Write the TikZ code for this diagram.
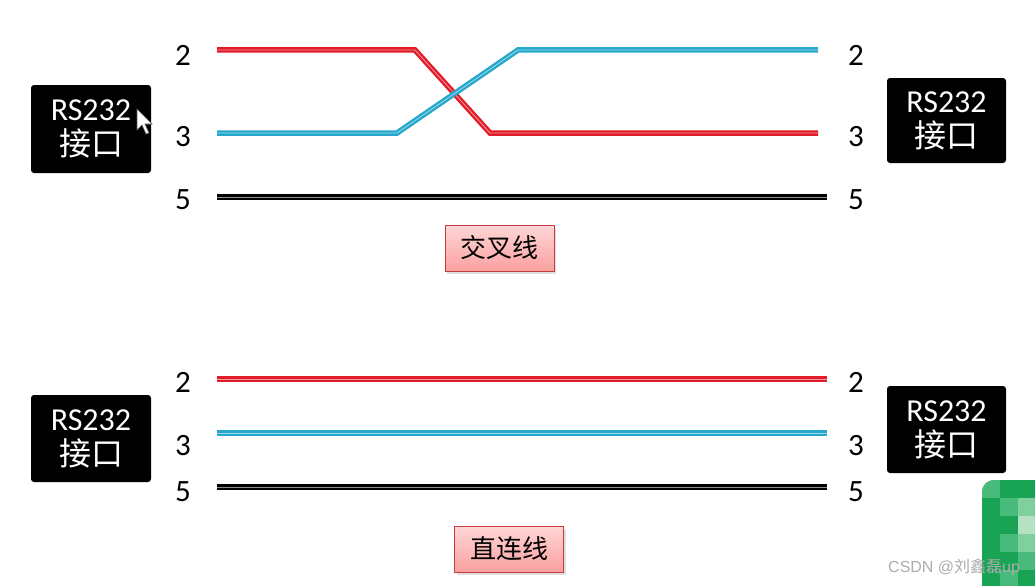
\documentclass[tikz,border=0pt]{standalone}
\usepackage{fontspec}
\setmainfont{Carlito}
\newfontfamily\cjk{Noto Sans CJK SC}
\newfontfamily\wmfont{Liberation Sans}
\usetikzlibrary{shadows}
\definecolor{wred}{RGB}{226,28,40}
\definecolor{wblue}{RGB}{38,168,204}
\definecolor{tagtop}{RGB}{255,214,214}
\definecolor{tagbot}{RGB}{250,160,160}
\definecolor{tagedge}{RGB}{196,60,60}
\definecolor{gA}{RGB}{24,164,84}
\definecolor{gB}{RGB}{72,186,122}
\definecolor{gC}{RGB}{128,208,158}
\definecolor{gD}{RGB}{182,226,196}
\begin{document}
\begin{tikzpicture}[x=1pt,y=-1pt,
  port/.style={fill=black, rounded corners=3pt, minimum width=120pt, minimum height=88pt,
    text=white, align=center, inner sep=0pt, font=\fontsize{32}{35}\selectfont},
  num/.style={inner sep=0pt, font=\fontsize{31}{31}\selectfont},
  tag/.style={draw=tagedge, line width=0.8pt, top color=tagtop, bottom color=tagbot,
    minimum width=109pt, minimum height=46pt, inner sep=0pt,
    font=\cjk\fontsize{26}{26}\selectfont,
    drop shadow={shadow xshift=2pt, shadow yshift=-3pt, opacity=0.25}},
  wshadow/.style={line width=3pt, black, opacity=0.10, shift={(0,3.8)}},
  wbody/.style={line width=5.5pt, #1},
  whl/.style={line width=0.8pt, white, opacity=0.55, shift={(0,1.3)}},
  wm/.style={text=gray!65, font=\wmfont\fontsize{16}{16}\selectfont, inner sep=0pt}
]
\useasboundingbox (0,0) rectangle (1035,586);

% ---------------- top: crossover ----------------
\node[port] (pl1) at (91,129) {RS232\\{\cjk 接口}};
\node[port, minimum width=119pt, minimum height=85pt] (pr1) at (946.5,120.5) {RS232\\{\cjk 接口}};

\node[num] (l2a) at (183,55) {2};
\node[num] (l3a) at (183,137) {3};
\node[num] (l5a) at (183,200) {5};
\node[num] (r2a) at (856,55) {2};
\node[num] (r3a) at (856,137) {3};
\node[num] (r5a) at (856,200) {5};

\coordinate (ra0) at (217,50);
\coordinate (ra1) at (415,50);
\coordinate (ra2) at (490,133);
\coordinate (ra3) at (818,133);
\coordinate (ba0) at (217,133);
\coordinate (ba1) at (397,133);
\coordinate (ba2) at (518,50);
\coordinate (ba3) at (818,50);
\coordinate (ka0) at (217,197);
\coordinate (ka1) at (827,197);

\draw[wshadow] (ra0) -- (ra1) -- (ra2) -- (ra3);
\draw[wshadow] (ba0) -- (ba1) -- (ba2) -- (ba3);
\draw[wshadow] (ka0) -- (ka1);
\draw[wbody=wred] (ra0) -- (ra1) -- (ra2) -- (ra3);
\draw[whl] (ra0) -- (ra1) -- (ra2) -- (ra3);
\draw[wbody=wblue] (ba0) -- (ba1) -- (ba2) -- (ba3);
\draw[whl] (ba0) -- (ba1) -- (ba2) -- (ba3);
\draw[wbody=black] (ka0) -- (ka1);
\draw[whl] (ka0) -- (ka1);

\node[tag] (t1) at (499.5,248) {交叉线};

% cursor
\draw[fill=white, draw=gray!70!black, line width=0.7pt]
  (137,109) -- (137,130) -- (142,125) -- (146,134) -- (149,133) -- (145,124) -- (152,124) -- cycle;

% ---------------- bottom: straight ----------------
\node[port, minimum height=87pt] (pl2) at (91,438.5) {RS232\\{\cjk 接口}};
\node[port, minimum width=119pt, minimum height=87pt] (pr2) at (946.5,429.5) {RS232\\{\cjk 接口}};

\node[num] (l2b) at (183,382) {2};
\node[num] (l3b) at (183,446) {3};
\node[num] (l5b) at (183,492) {5};
\node[num] (r2b) at (856,382) {2};
\node[num] (r3b) at (856,446) {3};
\node[num] (r5b) at (856,492) {5};

\coordinate (rb0) at (217,379);
\coordinate (rb1) at (827,379);
\coordinate (bb0) at (217,433);
\coordinate (bb1) at (827,433);
\coordinate (kb0) at (217,487);
\coordinate (kb1) at (827,487);

\draw[wshadow] (rb0) -- (rb1);
\draw[wshadow] (bb0) -- (bb1);
\draw[wshadow] (kb0) -- (kb1);
\draw[wbody=wred] (rb0) -- (rb1);
\draw[whl] (rb0) -- (rb1);
\draw[wbody=wblue] (bb0) -- (bb1);
\draw[whl] (bb0) -- (bb1);
\draw[wbody=black] (kb0) -- (kb1);
\draw[whl] (kb0) -- (kb1);

\node[tag] (t2) at (509,549) {直连线};

% ---------------- green block + watermark ----------------
\begin{scope}
  \clip[rounded corners=12pt] (982,480) rectangle (1050,600);
  \fill[gA] (982,480) rectangle (1035,586);
  \fill[gB] (1000,498) rectangle (1018,516);
  \fill[gC] (1018,498) rectangle (1035,516);
  \fill[gD] (1018,516) rectangle (1035,534);
  \fill[gB] (982,480) rectangle (1000,498);
  \fill[gC] (1018,534) rectangle (1035,552);
  \fill[gB] (1000,534) rectangle (1018,552);
  \fill[gB] (1018,552) rectangle (1035,570);
  \fill[gB] (1000,570) rectangle (1018,586);
\end{scope}
\node[wm, anchor=west] (wmk) at (888,567) {CSDN @{\cjk 刘鑫磊}up};
\end{tikzpicture}
\end{document}
